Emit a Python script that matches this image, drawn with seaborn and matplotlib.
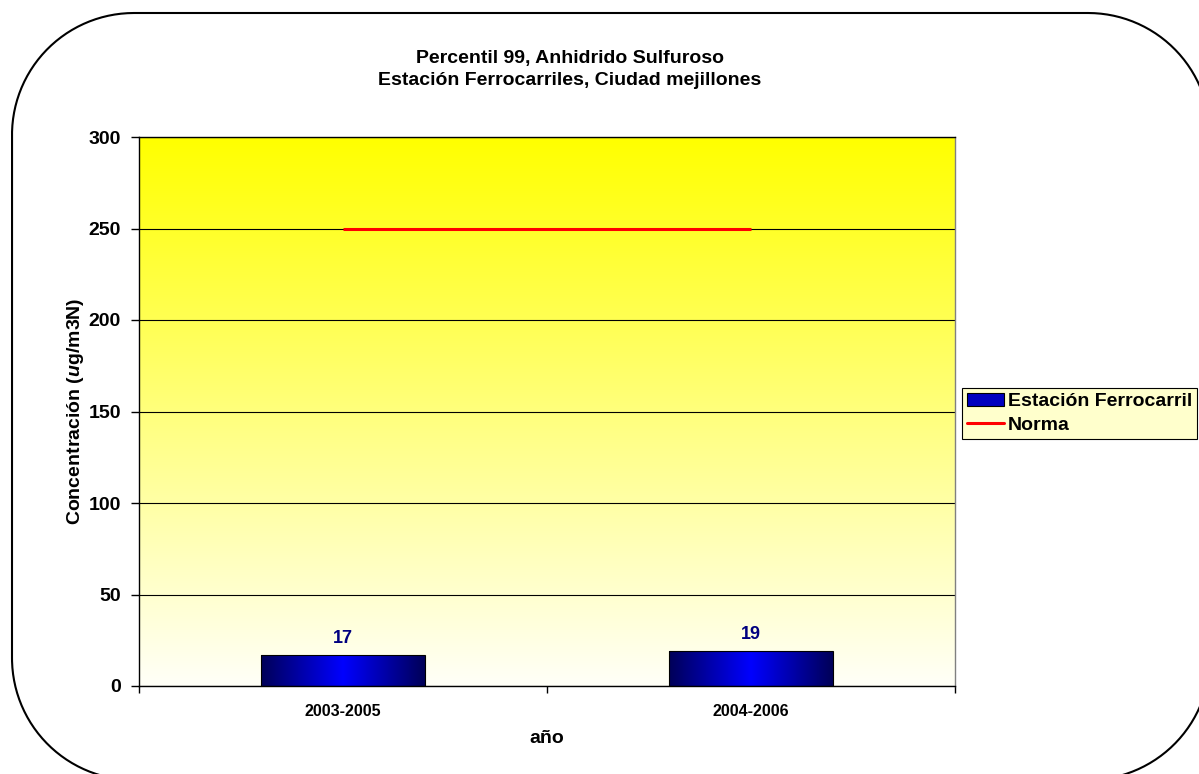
import numpy as np
import pandas as pd
import matplotlib
matplotlib.use("Agg")
import matplotlib.pyplot as plt
import seaborn as sns
from matplotlib.patches import Rectangle
from matplotlib.lines import Line2D
from matplotlib.colors import LinearSegmentedColormap

# Datos
periodos = ["2003-2005", "2004-2006"]
percentil_99 = [17, 19]
norma = [250, 250]
serie_barras = "Estación Ferrocarril"
serie_norma = "Norma"
titulo = "Percentil 99, Anhidrido Sulfuroso\nEstación Ferrocarriles, Ciudad mejillones"
y_ticks = [0, 50, 100, 150, 200, 250, 300]

sns.set_theme(style="white")
plt.rcParams["font.family"] = ["Liberation Sans", "DejaVu Sans"]
plt.rcParams["font.sans-serif"] = ["Liberation Sans", "DejaVu Sans"]
plt.rcParams["font.weight"] = "bold"
plt.rcParams["mathtext.fontset"] = "custom"
plt.rcParams["mathtext.bfit"] = "Liberation Sans:italic:bold"
for k in ["text.color", "axes.labelcolor", "xtick.color", "ytick.color"]:
    plt.rcParams[k] = "black"

W, H = 1199, 774
fig = plt.figure(figsize=(W / 100, H / 100), dpi=100)
fig.patch.set_facecolor("white")

# Marco redondeado exterior (coordenadas en píxeles, eje y hacia abajo)
ax_frame = fig.add_axes([0, 0, 1, 1])
ax_frame.set_xlim(0, W)
ax_frame.set_ylim(H, 0)
ax_frame.axis("off")
x0, y0, x1, y1, r = 12, 13, 1210, 780, 122
esquinas = [((x1 - r, y0 + r), -90, 0), ((x1 - r, y1 - r), 0, 90),
            ((x0 + r, y1 - r), 90, 180), ((x0 + r, y0 + r), 180, 270)]
xs, ys = [], []
for (cx, cy), a0, a1 in esquinas:
    ang = np.radians(np.linspace(a0, a1, 60))
    xs.extend(cx + r * np.cos(ang))
    ys.extend(cy + r * np.sin(ang))
xs.append(xs[0]); ys.append(ys[0])
ax_frame.plot(xs, ys, color="black", lw=1.5, clip_on=False)

ax = fig.add_axes([139 / W, 1 - 686 / H, (955 - 139) / W, (686 - 137) / H])

df = pd.DataFrame({"periodo": periodos, "valor": percentil_99})
sns.barplot(data=df, x="periodo", y="valor", width=0.4, color="#000080",
            saturation=1, edgecolor="black", linewidth=0.8, ax=ax)

# Fondo degradado amarillo
bg = np.linspace(0, 1, 256).reshape(-1, 1)
cmap_bg = LinearSegmentedColormap.from_list("fondo", ["#FFFF00", "#FFFFF8"])
ax.imshow(bg, cmap=cmap_bg, extent=[-0.5, 1.5, 0, 300], aspect="auto",
          origin="upper", zorder=0)

# Degradado horizontal de las barras
cmap_bar = LinearSegmentedColormap.from_list("barra", ["#000058", "#0000FF", "#000058"])
grad = np.linspace(0, 1, 256).reshape(1, -1)
for bar in list(ax.patches):
    bx, bw, bh = bar.get_x(), bar.get_width(), bar.get_height()
    im = ax.imshow(grad, cmap=cmap_bar, extent=[bx, bx + bw, 0, bh],
                   aspect="auto", zorder=2.5)
    im.set_clip_path(bar)
    bar.set_facecolor("none")
    bar.set_zorder(3)

for i, v in enumerate(percentil_99):
    ax.annotate(f"{v}", xy=(i, v), xytext=(0, 6), textcoords="offset points",
                ha="center", va="bottom", color="#000080", fontsize=13,
                fontweight="bold")

ax.plot([0, 1], norma, color="red", lw=2.2, zorder=4, solid_capstyle="butt")

ax.set_xlim(-0.5, 1.5)
ax.set_ylim(0, 300)
ax.set_yticks(y_ticks)
ax.set_xticks(range(len(periodos)))
ax.set_xticklabels(periodos, fontsize=11.5, fontweight="bold")
ax.set_xticks([-0.5, 0.5, 1.5], minor=True)
ax.tick_params(axis="x", which="major", length=0, pad=13, bottom=True)
ax.tick_params(axis="x", which="minor", length=5, width=1, color="black",
               direction="out", bottom=True)
ax.tick_params(axis="y", length=6, width=1, color="black", direction="out",
               pad=7, labelsize=14, left=True)
for lbl in ax.get_yticklabels():
    lbl.set_fontweight("bold")

ax.yaxis.grid(True, color="black", lw=0.8)
ax.xaxis.grid(False)
ax.set_axisbelow(True)
for side in ["left", "bottom", "top"]:
    ax.spines[side].set_color("black")
    ax.spines[side].set_linewidth(1)
ax.spines["right"].set_color("#808080")
ax.spines["right"].set_linewidth(1)

ax.set_xlabel("año", fontsize=14, fontweight="bold", labelpad=8)
ax.set_ylabel("Concentración ($\\mathbfit{u}$g/m3N)", fontsize=14,
              fontweight="bold", labelpad=2)

fig.text(570 / W, 1 - 69.5 / H, titulo, ha="center", va="center", fontsize=14,
         fontweight="bold", linespacing=1.35)

handles = [Rectangle((0, 0), 1, 1, facecolor="#0000C0", edgecolor="black", lw=0.8),
           Line2D([], [], color="red", lw=2.2)]
leg = fig.legend(handles, [serie_barras, serie_norma], loc="upper left",
                 bbox_to_anchor=(962 / W, 1 - 388 / H), frameon=True,
                 prop={"weight": "bold", "size": 14}, handlelength=1.9,
                 handletextpad=0.2, labelspacing=0.3, borderpad=0.25,
                 borderaxespad=0, fancybox=False, framealpha=1)
leg.get_frame().set_facecolor("#FFFFCC")
leg.get_frame().set_edgecolor("black")
leg.get_frame().set_linewidth(0.8)

fig.savefig("out.png", dpi=100)
